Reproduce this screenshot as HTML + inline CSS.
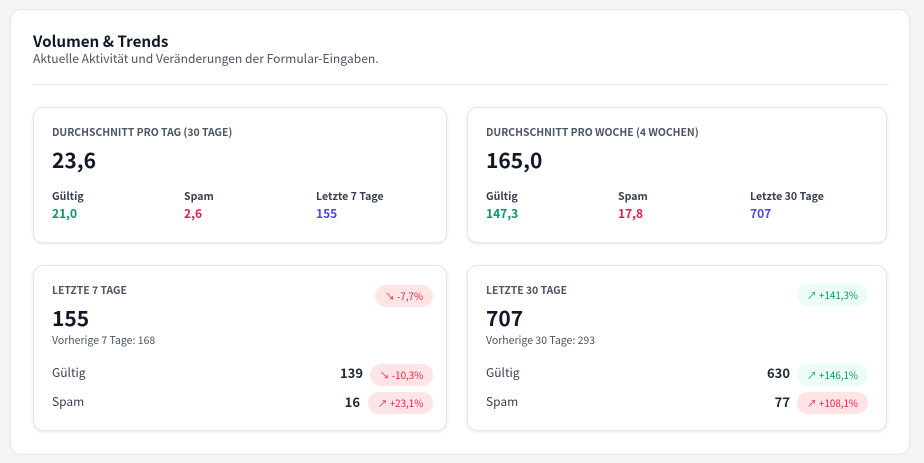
<!DOCTYPE html>
<html><head><meta charset="utf-8"><style>
*{box-sizing:border-box;margin:0;padding:0}
body{width:924px;height:463px;background:#f3f4f6;font-family:"Noto Sans CJK JP","Liberation Sans",sans-serif;position:relative;overflow:hidden;color:#111827;line-height:1.2}
.abs{position:absolute;white-space:nowrap}
.panel{position:absolute;left:10px;top:9px;width:900px;height:446px;background:#fff;border:1px solid #e5e7eb;border-radius:12px}
.card{position:absolute;background:#fff;border:1px solid #e5e7eb;border-radius:10px;box-shadow:0 1px 3px rgba(0,0,0,.1)}
.lbl{font-size:10.4px;font-weight:bold;color:#4b5563}
.big{font-size:21px;font-weight:bold;color:#111827}
.sl{font-size:10.6px;font-weight:bold;color:#374151}
.sv{font-size:12px;font-weight:bold}
.g{color:#059669}.r{color:#e11d48}.p{color:#4f46e5}
.badge{position:absolute;height:22px;border-radius:11px;font-size:9.8px;line-height:22px;text-align:center;white-space:nowrap}
.bn{background:#ffe4e6;color:#e11d48}.bp{background:#ecfdf5;color:#059669}
.row{font-size:12px;color:#374151}
.rv{font-size:13px;font-weight:bold;color:#1f2937;text-align:right;width:60px}
.prev{font-size:10.5px;color:#4b5563}
</style></head><body>
<div class="panel"></div>
<div class="abs" style="left:33px;top:32px;font-size:15.2px;font-weight:bold">Volumen &amp; Trends</div>
<div class="abs" style="left:33px;top:52px;font-size:12.1px;color:#4b5563">Aktuelle Aktivität und Veränderungen der Formular-Eingaben.</div>
<div class="abs" style="left:33px;top:84px;width:856px;height:1px;background:#e5e7eb"></div>

<div class="card" style="left:33px;top:107px;width:414px;height:136px"></div>
<div class="abs lbl" style="left:52px;top:126px">DURCHSCHNITT PRO TAG (30 TAGE)</div>
<div class="abs big" style="left:52px;top:148px">23,6</div>
<div class="abs sl" style="left:52px;top:191px">Gültig</div>
<div class="abs sv g" style="left:52px;top:207px">21,0</div>
<div class="abs sl" style="left:184px;top:191px">Spam</div>
<div class="abs sv r" style="left:184px;top:207px">2,6</div>
<div class="abs sl" style="left:316px;top:191px">Letzte 7 Tage</div>
<div class="abs sv p" style="left:316px;top:207px">155</div>

<div class="card" style="left:467px;top:107px;width:420px;height:136px"></div>
<div class="abs lbl" style="left:486px;top:126px">DURCHSCHNITT PRO WOCHE (4 WOCHEN)</div>
<div class="abs big" style="left:486px;top:148px">165,0</div>
<div class="abs sl" style="left:486px;top:191px">Gültig</div>
<div class="abs sv g" style="left:486px;top:207px">147,3</div>
<div class="abs sl" style="left:618px;top:191px">Spam</div>
<div class="abs sv r" style="left:618px;top:207px">17,8</div>
<div class="abs sl" style="left:750px;top:191px">Letzte 30 Tage</div>
<div class="abs sv p" style="left:750px;top:207px">707</div>

<div class="card" style="left:33px;top:265px;width:414px;height:166px"></div>
<div class="abs lbl" style="left:52px;top:284px">LETZTE 7 TAGE</div>
<div class="badge bn" style="left:375px;top:285px;width:58px">↘ -7,7%</div>
<div class="abs big" style="left:52px;top:306px">155</div>
<div class="abs prev" style="left:52px;top:335px">Vorherige 7 Tage: 168</div>
<div class="abs row" style="left:52px;top:366px">Gültig</div>
<div class="abs rv" style="left:303px;top:365px">139</div>
<div class="badge bn" style="left:370px;top:364px;width:63px">↘ -10,3%</div>
<div class="abs row" style="left:52px;top:395px">Spam</div>
<div class="abs rv" style="left:300px;top:394px">16</div>
<div class="badge bn" style="left:368px;top:392px;width:65px">↗ +23,1%</div>

<div class="card" style="left:467px;top:265px;width:420px;height:166px"></div>
<div class="abs lbl" style="left:486px;top:284px">LETZTE 30 TAGE</div>
<div class="badge bp" style="left:797px;top:284px;width:71px">↗ +141,3%</div>
<div class="abs big" style="left:486px;top:306px">707</div>
<div class="abs prev" style="left:486px;top:335px">Vorherige 30 Tage: 293</div>
<div class="abs row" style="left:486px;top:366px">Gültig</div>
<div class="abs rv" style="left:730px;top:365px">630</div>
<div class="badge bp" style="left:797px;top:364px;width:71px">↗ +146,1%</div>
<div class="abs row" style="left:486px;top:395px">Spam</div>
<div class="abs rv" style="left:730px;top:394px">77</div>
<div class="badge bn" style="left:797px;top:392px;width:71px">↗ +108,1%</div>
</body></html>
